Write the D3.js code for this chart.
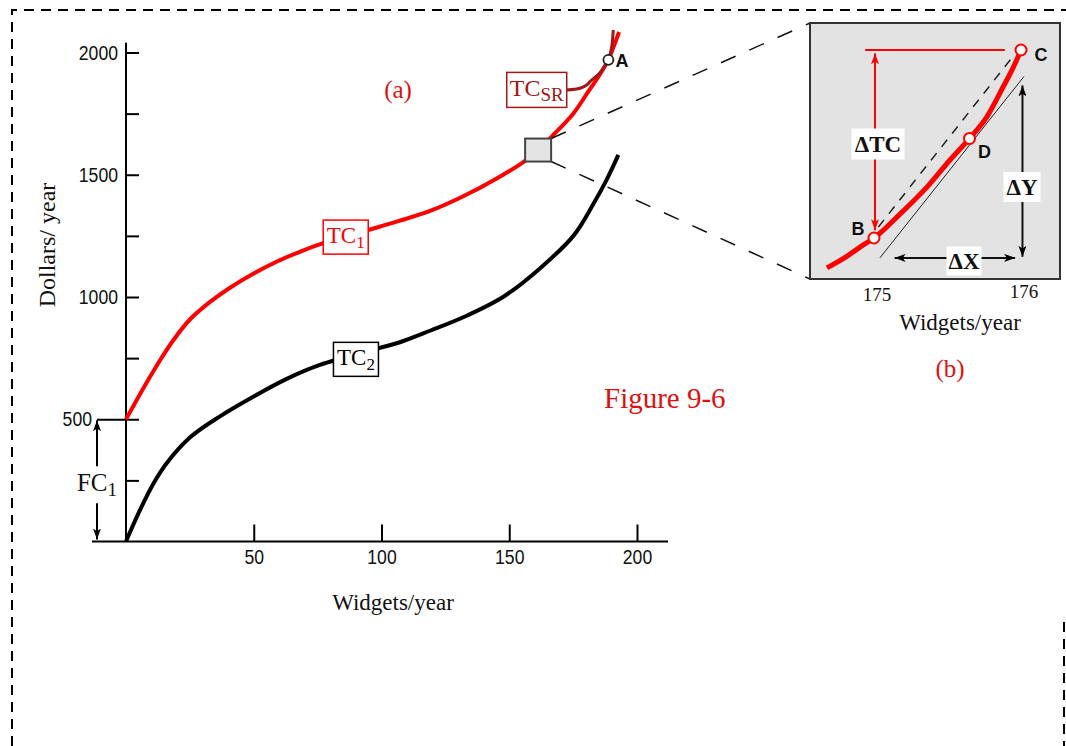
<!DOCTYPE html>
<html>
<head>
<meta charset="utf-8">
<script src="https://cdn.jsdelivr.net/npm/d3@7"></script>
<style>
  body { margin: 0; background: #fff; }
  svg { display: block; }
</style>
</head>
<body>
<svg id="chart" width="1066" height="746"></svg>
<script>
// ---- Panel (a): total cost curves ----
const tc1Widgets = [0, 6.8, 10.7, 14.6, 18.5, 25, 32.9, 40.7, 49.8, 58.9, 68, 77.2, 94.8, 106.5, 119, 132, 145.1, 155.5, 161.3, 166.6, 175.1, 181.1, 185, 188.8, 191, 193];
const tc1Dollars = [500, 627, 696, 762, 823, 908, 980, 1038, 1095, 1144, 1185, 1220, 1274, 1310, 1352, 1412, 1485, 1552, 1601, 1656, 1751, 1843, 1903, 1970, 2028, 2084];

const tc2Widgets = [0, 5.5, 10.7, 15.9, 25, 36.8, 49.8, 62.9, 75.9, 98.7, 107.2, 119, 132, 147.7, 162, 175.1, 182.9, 188.1, 192.7];
const tc2Dollars = [0, 129, 236, 320, 425, 512, 592, 665, 722, 790, 815, 862, 917, 1001, 1117, 1250, 1380, 1479, 1581];

const tcsrWidgets = [172.5, 177.7, 180.3, 181.6, 185.5, 187.4, 188.8, 190.1, 190.7];
const tcsrDollars = [1847, 1854, 1867, 1881, 1917, 1945, 1970, 2024, 2092];

const pointA = [188.8, 1970];
const zoomPoint = [161.3, 1601];
const tc1LabelAt = [86, 1245];
const tc2LabelAt = [90, 745];
const fixedCost = 500;

const xTicks = [50, 100, 150, 200];
const yTicks = [250, 500, 750, 1000, 1250, 1500, 1750, 2000];
const yLabelTicks = [500, 1000, 1500, 2000];

// ---- Panel (b): TC1 between 175 and 176 widgets ----
const insetWidgets = [174.68, 174.81, 174.93, 175, 175.18, 175.36, 175.52, 175.65, 175.77, 175.88, 175.95, 176];
const insetDollars = [1752.3, 1753.3, 1754.4, 1755, 1757.2, 1759.6, 1762.1, 1764, 1766, 1768.7, 1770.5, 1772];
const insetTicks = [175, 176];
const pointB = [175, 1755];
const pointD = [175.65, 1764];
const pointC = [176, 1772];
const secantLine = [[175.03, 1756], [175.95, 1771.5]];
const tangentLine = [[175.04, 1753.2], [176.02, 1769.6]];

const RED = "#ff0000";
const DARKRED = "#a01818";
const SERIF = "'Liberation Serif', 'Times New Roman', serif";
const SANS = "'Liberation Sans', Arial, sans-serif";
const NARROW_SCALE = 0.84;

const svg = d3.select("#chart");
svg.append("rect").attr("width", 1066).attr("height", 746).attr("fill", "#fff");

// arrowheads
const defs = svg.append("defs");
function marker(id, color, w, h) {
  defs.append("marker")
    .attr("id", id)
    .attr("viewBox", `0 0 ${w} ${h}`)
    .attr("refX", w).attr("refY", h / 2)
    .attr("markerWidth", w).attr("markerHeight", h)
    .attr("markerUnits", "userSpaceOnUse")
    .attr("orient", "auto-start-reverse")
    .append("path")
    .attr("d", `M0,0 L${w},${h / 2} L0,${h} L${w * 0.25},${h / 2} Z`)
    .attr("fill", color);
}
marker("arrowBlack", "#000", 11, 8);
marker("arrowRed", RED, 11, 8);

// dashed page frame
const frame = svg.append("g").attr("fill", "none").attr("stroke", "#000")
  .attr("stroke-width", 2).attr("stroke-dasharray", "10,7");
frame.append("path").attr("d", "M12,746 L12,10 L1066,10");
frame.append("path").attr("d", "M1064,622 L1064,746");

// ---- main scales ----
const x = d3.scaleLinear().domain([0, 200]).range([126, 637]);
const y = d3.scaleLinear().domain([0, 2000]).range([541.5, 52.5]);

// condensed tick lettering
function narrowText(sel) {
  sel.attr("font-family", SANS).attr("font-size", 21).attr("fill", "#111")
    .each(function () {
      const t = d3.select(this);
      const x0 = +t.attr("x") || 0;
      t.attr("x", x0 / NARROW_SCALE).attr("transform", `scale(${NARROW_SCALE},1)`);
    });
}

// x axis
const gx = svg.append("g").attr("transform", `translate(0,${y(0)})`)
  .call(d3.axisBottom(x).tickValues(xTicks).tickSize(-17).tickPadding(8).tickFormat(d3.format("d")));
gx.select(".domain").remove();
gx.selectAll(".tick line").attr("stroke", "#000").attr("stroke-width", 2);
gx.selectAll(".tick text").call(narrowText);
svg.append("line").attr("x1", 92).attr("x2", 668).attr("y1", y(0)).attr("y2", y(0))
  .attr("stroke", "#000").attr("stroke-width", 2);

// y axis
const gy = svg.append("g").attr("transform", `translate(${x(0)},0)`)
  .call(d3.axisLeft(y).tickValues(yTicks).tickSize(-13).tickPadding(8)
    .tickFormat(d => yLabelTicks.includes(d) ? String(d) : ""));
gy.select(".domain").remove();
gy.selectAll(".tick line").attr("stroke", "#000").attr("stroke-width", 2);
gy.selectAll(".tick").filter(d => d === fixedCost).each(function () {
  d3.select(this).select("line").attr("x1", -29);
  d3.select(this).select("text").attr("x", -34);
});
gy.selectAll(".tick text").call(narrowText);
svg.append("line").attr("x1", x(0)).attr("x2", x(0)).attr("y1", y(2040)).attr("y2", y(0))
  .attr("stroke", "#000").attr("stroke-width", 2);

// axis titles
svg.append("text").attr("x", 393).attr("y", 602).attr("text-anchor", "middle")
  .attr("dominant-baseline", "central").attr("font-family", SERIF).attr("font-size", 23)
  .attr("fill", "#111").text("Widgets/year");
svg.append("text").attr("transform", "translate(47,245) rotate(-90)").attr("text-anchor", "middle")
  .attr("dominant-baseline", "central").attr("font-family", SERIF).attr("font-size", 24)
  .attr("fill", "#111").text("Dollars/ year");

// fixed cost bracket
const fcX = x(0) - 29;
svg.append("line").attr("x1", fcX).attr("x2", fcX).attr("y1", y(fixedCost) + 1).attr("y2", y(fixedCost) + 47)
  .attr("stroke", "#000").attr("stroke-width", 2).attr("marker-start", "url(#arrowBlack)");
svg.append("line").attr("x1", fcX).attr("x2", fcX).attr("y1", y(fixedCost) + 84).attr("y2", y(0) - 2)
  .attr("stroke", "#000").attr("stroke-width", 2).attr("marker-end", "url(#arrowBlack)");
const fcText = svg.append("text").attr("x", fcX).attr("y", 491).attr("text-anchor", "middle")
  .attr("font-family", SERIF).attr("font-size", 25).attr("fill", "#111");
fcText.append("tspan").text("FC");
fcText.append("tspan").attr("font-size", 19).attr("dy", 5).text("1");

// curves
const line = d3.line().x(d => x(d[0])).y(d => y(d[1])).curve(d3.curveCatmullRom.alpha(0.5));
const tc1 = d3.zip(tc1Widgets, tc1Dollars);
const tc2 = d3.zip(tc2Widgets, tc2Dollars);
const tcsr = d3.zip(tcsrWidgets, tcsrDollars);

svg.append("path").datum(tc2).attr("d", line).attr("fill", "none")
  .attr("stroke", "#000").attr("stroke-width", 4).attr("stroke-linejoin", "round");
svg.append("path").datum(tc1).attr("d", line).attr("fill", "none")
  .attr("stroke", RED).attr("stroke-width", 4).attr("stroke-linejoin", "round");
svg.append("path").datum(tcsr).attr("d", line).attr("fill", "none")
  .attr("stroke", DARKRED).attr("stroke-width", 3).attr("stroke-linejoin", "round");

// curve labels
function curveLabel(cx, cy, w, h, color, main, sub, mainSize, subSize) {
  svg.append("rect").attr("x", cx - w / 2).attr("y", cy - h / 2).attr("width", w).attr("height", h)
    .attr("fill", "#fff").attr("stroke", color).attr("stroke-width", 1.5);
  const t = svg.append("text").attr("x", cx).attr("y", cy + 6).attr("text-anchor", "middle")
    .attr("font-family", SERIF).attr("font-size", mainSize).attr("fill", color);
  t.append("tspan").text(main);
  t.append("tspan").attr("font-size", subSize).attr("dy", 5).text(sub);
}
curveLabel(x(tc1LabelAt[0]), y(tc1LabelAt[1]), 45, 34, RED, "TC", "1", 23, 17);
curveLabel(x(tc2LabelAt[0]), y(tc2LabelAt[1]), 45, 34, "#000", "TC", "2", 23, 17);
curveLabel(x(tcsrWidgets[0]) - 30, y(tcsrDollars[0]), 60, 35, DARKRED, "TC", "SR", 24, 19);

// point A
svg.append("circle").attr("cx", x(pointA[0])).attr("cy", y(pointA[1])).attr("r", 5)
  .attr("fill", "#fff").attr("stroke", "#222").attr("stroke-width", 1.8);
svg.append("text").attr("x", x(pointA[0]) + 7).attr("y", y(pointA[1]) + 7)
  .attr("font-family", SANS).attr("font-weight", "bold").attr("font-size", 18).attr("fill", "#111").text("A");

// panel titles
svg.append("text").attr("x", 398).attr("y", 89).attr("text-anchor", "middle").attr("dominant-baseline", "central")
  .attr("font-family", SERIF).attr("font-size", 25).attr("fill", "#dd1111").text("(a)");
svg.append("text").attr("x", 604).attr("y", 398).attr("dominant-baseline", "central")
  .attr("font-family", SERIF).attr("font-size", 29).attr("fill", "#dd1111").text("Figure 9-6");

// ---- Panel (b) ----
const inset = { x0: 810, y0: 23, x1: 1060, y1: 279 };
const zx = x(zoomPoint[0]), zy = y(zoomPoint[1]);
const zw = 26, zh = 23;

// connectors from the highlighted segment to the blow-up
const conn = svg.append("g").attr("stroke", "#111").attr("stroke-width", 1.5).attr("stroke-dasharray", "16,15");
conn.append("line").attr("x1", zx + zw / 2).attr("y1", zy - zh / 2).attr("x2", inset.x0).attr("y2", inset.y0);
conn.append("line").attr("x1", zx + zw / 2).attr("y1", zy + zh / 2).attr("x2", inset.x0).attr("y2", inset.y1);

svg.append("rect").attr("x", zx - zw / 2).attr("y", zy - zh / 2).attr("width", zw).attr("height", zh)
  .attr("fill", "#e4e4e4").attr("stroke", "#444").attr("stroke-width", 2);

svg.append("rect").attr("x", inset.x0).attr("y", inset.y0)
  .attr("width", inset.x1 - inset.x0).attr("height", inset.y1 - inset.y0)
  .attr("fill", "#e3e3e3").attr("stroke", "#333").attr("stroke-width", 2);

const ix = d3.scaleLinear().domain([175, 176]).range([874, 1021]);
const iy = d3.scaleLinear().domain([1755, 1772]).range([238, 50]);
const iline = d3.line().x(d => ix(d[0])).y(d => iy(d[1]));

// level of C
svg.append("line").attr("x1", ix(174.94)).attr("x2", ix(175.89)).attr("y1", iy(pointC[1])).attr("y2", iy(pointC[1]))
  .attr("stroke", RED).attr("stroke-width", 2);
// secant and tangent
svg.append("path").datum(secantLine).attr("d", iline).attr("stroke", "#222").attr("stroke-width", 1.5)
  .attr("stroke-dasharray", "9,8").attr("fill", "none");
svg.append("path").datum(tangentLine).attr("d", iline).attr("stroke", "#222").attr("stroke-width", 1)
  .attr("fill", "none");
// magnified TC1
svg.append("path").datum(d3.zip(insetWidgets, insetDollars)).attr("d", iline.curve(d3.curveMonotoneX))
  .attr("fill", "none").attr("stroke", RED).attr("stroke-width", 5).attr("stroke-linejoin", "round");

// delta arrows
svg.append("line").attr("x1", ix(175.007)).attr("x2", ix(175.007)).attr("y1", iy(1771.7)).attr("y2", iy(1755.7))
  .attr("stroke", RED).attr("stroke-width", 2)
  .attr("marker-start", "url(#arrowRed)").attr("marker-end", "url(#arrowRed)");
svg.append("line").attr("x1", ix(176.01)).attr("x2", ix(176.01)).attr("y1", iy(1768.8)).attr("y2", iy(1753.3))
  .attr("stroke", "#111").attr("stroke-width", 2)
  .attr("marker-start", "url(#arrowBlack)").attr("marker-end", "url(#arrowBlack)");
svg.append("line").attr("x1", ix(175.14)).attr("x2", ix(175.96)).attr("y1", iy(1753.2)).attr("y2", iy(1753.2))
  .attr("stroke", "#111").attr("stroke-width", 2)
  .attr("marker-start", "url(#arrowBlack)").attr("marker-end", "url(#arrowBlack)");

function deltaLabel(cx, cy, w, h, txt) {
  svg.append("rect").attr("x", cx - w / 2).attr("y", cy - h / 2).attr("width", w).attr("height", h).attr("fill", "#fff");
  svg.append("text").attr("x", cx).attr("y", cy).attr("text-anchor", "middle").attr("dominant-baseline", "central")
    .attr("font-family", SERIF).attr("font-weight", "bold").attr("font-size", 23).attr("fill", "#111").text(txt);
}
deltaLabel(878, 144, 53, 31, "ΔTC");
deltaLabel(1022, 187, 37, 30, "ΔY");
deltaLabel(964, 261, 35, 29, "ΔX");

// points B, D, C
const pts = [
  { p: pointB, name: "B", dx: -16, dy: -9 },
  { p: pointD, name: "D", dx: 15, dy: 14 },
  { p: pointC, name: "C", dx: 20, dy: 5 }
];
pts.forEach(o => {
  svg.append("circle").attr("cx", ix(o.p[0])).attr("cy", iy(o.p[1])).attr("r", 5.5)
    .attr("fill", "#fff").attr("stroke", RED).attr("stroke-width", 2);
  svg.append("text").attr("x", ix(o.p[0]) + o.dx).attr("y", iy(o.p[1]) + o.dy)
    .attr("text-anchor", "middle").attr("dominant-baseline", "central")
    .attr("font-family", SANS).attr("font-weight", "bold").attr("font-size", 18).attr("fill", "#111").text(o.name);
});

// inset axis labels
svg.selectAll(".insetTick").data(insetTicks).enter().append("text")
  .attr("x", d => ix(d) + 3).attr("y", d => d === 175 ? 294 : 291).attr("text-anchor", "middle").attr("dominant-baseline", "central")
  .attr("font-family", SERIF).attr("font-size", 19).attr("fill", "#111").text(d => d);
svg.append("text").attr("x", 960).attr("y", 322).attr("text-anchor", "middle").attr("dominant-baseline", "central")
  .attr("font-family", SERIF).attr("font-size", 23).attr("fill", "#111").text("Widgets/year");
svg.append("text").attr("x", 950).attr("y", 368).attr("text-anchor", "middle").attr("dominant-baseline", "central")
  .attr("font-family", SERIF).attr("font-size", 25).attr("fill", "#dd1111").text("(b)");
</script>
</body>
</html>
